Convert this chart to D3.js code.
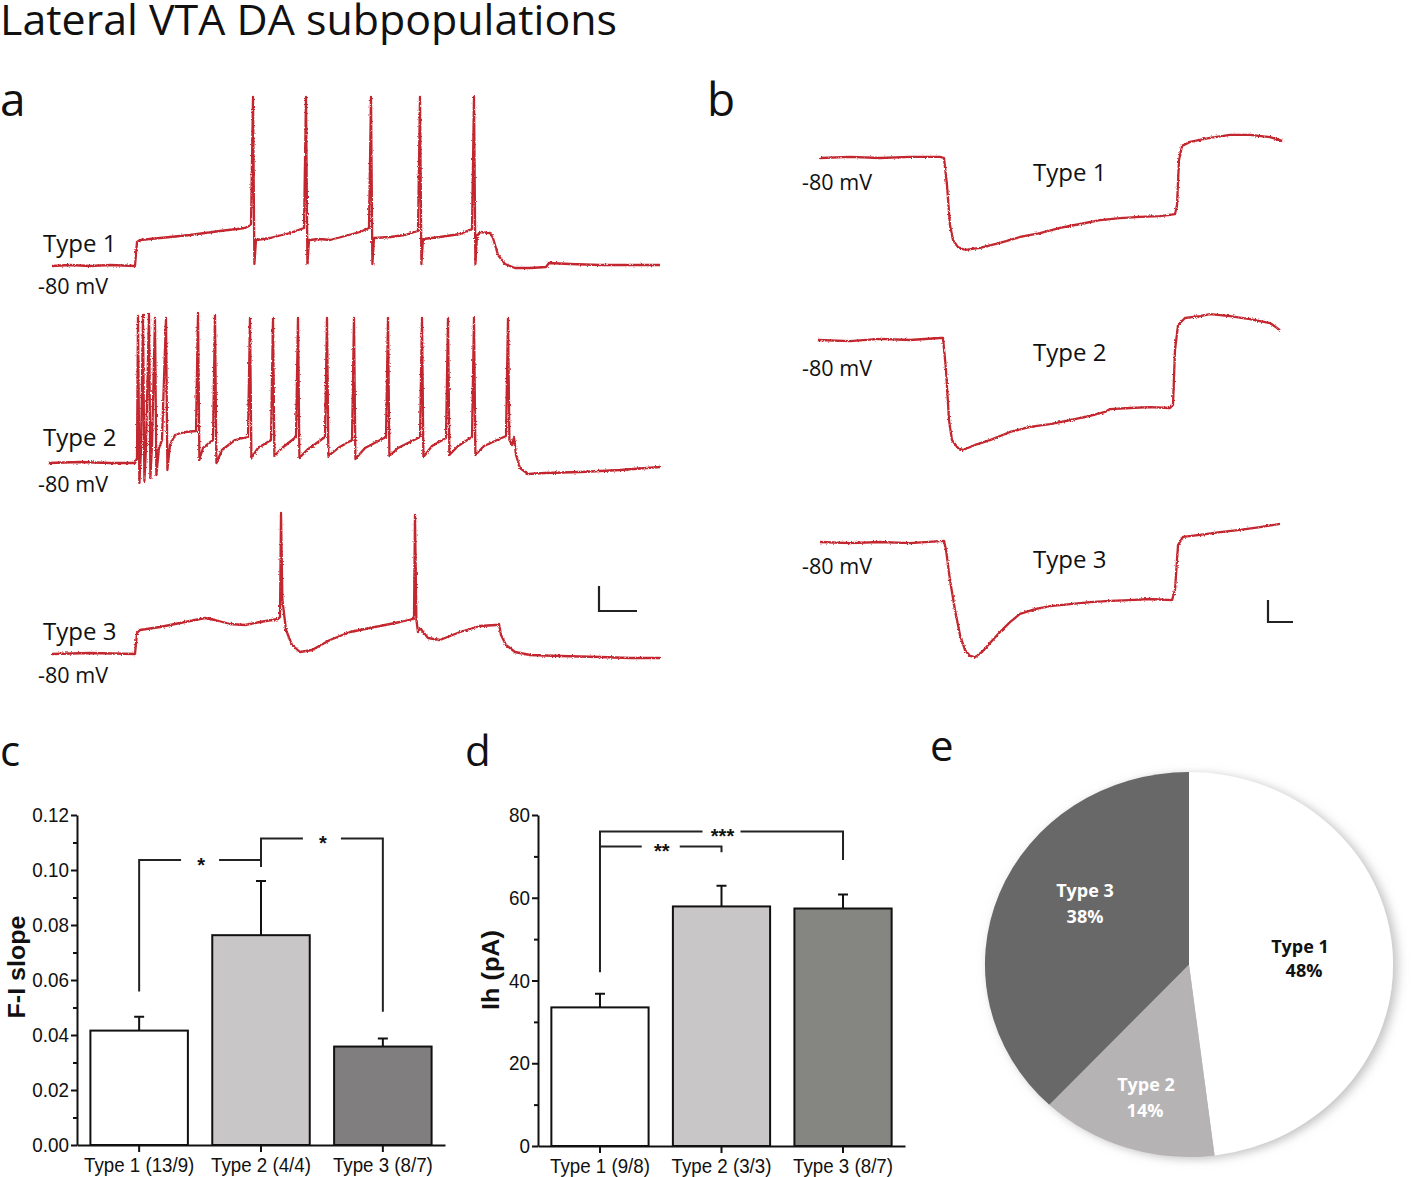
<!DOCTYPE html>
<html><head><meta charset="utf-8">
<script src="https://cdn.jsdelivr.net/npm/d3@7"></script>
<style>
body{margin:0;background:#fff;}
svg{display:block;}
</style></head><body>
<svg id="fig" width="1418" height="1177"></svg>
<script>
// ---------------- DATA ----------------
// Panel a: current-clamp traces, [time (ms), membrane potential (mV)]
const traceA1 = [[60,-80],[150,-79.2],[250,-80],[350,-79.2],[475,-80],[485,-60.8],[500,-59.2],[600,-57.6],[750,-55.2],[900,-52],[1025,-49.6],[1055,-47.2],
 [1065,55.2],[1072,-78.4],[1080,-59.2],[1150,-57.6],[1250,-53.6],[1320,-49.6],
 [1330,55.2],[1337,-78.4],[1345,-59.2],[1400,-58.4],[1450,-59.2],[1525,-56],[1600,-52.8],[1645,-49.6],
 [1655,55.2],[1662,-78.4],[1670,-57.6],[1750,-56.8],[1825,-55.2],[1890,-52],
 [1900,55.2],[1907,-78.4],[1915,-58.4],[2000,-56.8],[2100,-54.4],[2160,-50.4],
 [2170,55.2],[2177,-78.4],[2185,-56],[2200,-52.8],[2250,-53.6],[2265,-57.6],[2290,-71.2],[2325,-78.4],[2375,-81.6],[2450,-81.6],[2530,-80.8],[2545,-77.6],[2650,-78.4],[2800,-79.2],[2950,-79.2],[3100,-79.2]];
const traceA2 = [[40,-80],[200,-79.2],[350,-80],[475,-80],[485,-76],
 [490,37.6],[497,-96],[505,-69.6],[515,38.4],[522,-94.4],[530,-68],[545,39.2],[552,-92],[560,-65.6],[575,36],[582,-89.6],[595,-68],[610,-61.6],
 [630,36],[637,-85.6],[650,-65.6],[675,-57.6],[725,-55.2],[780,-54.4],
 [790,40],[797,-77.6],[815,-68],[865,-61.6],
 [875,38.4],[882,-80],[910,-69.6],[975,-61.6],[1040,-59.2],
 [1050,36],[1057,-76],[1090,-68],[1155,-61.6],
 [1165,36],[1172,-74.4],[1210,-68],[1280,-59.2],
 [1290,36],[1297,-76],[1335,-69.6],[1425,-59.2],
 [1435,36],[1442,-74.4],[1490,-68],[1560,-61.6],
 [1570,36],[1577,-76.8],[1625,-68],[1730,-59.2],
 [1740,36],[1747,-74.4],[1790,-68],[1900,-59.2],
 [1910,36],[1917,-75.2],[1960,-66.4],[2030,-60],
 [2040,36],[2047,-73.6],[2090,-66.4],[2160,-59.2],
 [2170,36],[2177,-73.6],[2220,-66.4],[2330,-58.4],
 [2340,36],[2347,-61.6],[2360,-65.6],[2370,-59.2],[2380,-73.6],[2400,-84],[2440,-88.8],[2525,-88],[2700,-87.2],[2900,-85.6],[3100,-83.2]];
const traceA3 = [[60,-80],[250,-79.2],[475,-80],[485,-63.2],[500,-60.8],[600,-58.4],[725,-54.4],[825,-51.2],[875,-52.8],[950,-56],[1025,-56.8],[1100,-54.4],[1190,-52],[1200,-50.4],
 [1205,32.8],[1212,-36.8],[1230,-60.8],[1260,-72.8],[1300,-78.4],[1360,-76.8],[1450,-68.8],[1550,-62.4],[1675,-58.4],[1800,-54.4],[1865,-52],[1870,-49.6],
 [1875,31.2],[1882,-52.8],[1890,-62.4],[1900,-59.2],[1940,-67.2],[2000,-68.8],[2100,-62.4],[2200,-57.6],[2280,-56.8],[2295,-56],[2305,-64.8],[2330,-72.8],[2375,-78.4],[2450,-80.8],[2600,-81.6],[2800,-82.4],[2950,-83.2],[3100,-83.2]];
// Panel b: hyperpolarising steps, [time (ms), mV]
const traceB1 = [[8,-80],[128,-79.5],[248,-80],[368,-79.5],[488,-79.5],[504,-80],[516,-92.3],[528,-110.5],[540,-117.3],[560,-120.5],[588,-121.8],[648,-120.9],[728,-118.6],[808,-115.9],[888,-114.1],[968,-111.8],[1048,-110],[1128,-108.2],[1208,-107.3],[1288,-106.8],[1368,-106.4],[1428,-105.5],[1436,-101.4],[1444,-80.9],[1456,-74.5],[1488,-72.7],[1568,-70.9],[1648,-69.5],[1728,-69.5],[1808,-70.5],[1860,-72.3]];
const traceB2 = [[0,-80],[128,-80.5],[248,-79.5],[368,-80],[488,-79.1],[500,-79.1],[512,-93.6],[524,-116.4],[536,-125.5],[560,-129.1],[580,-130],[628,-127.7],[688,-125.5],[768,-121.8],[848,-119.5],[928,-118.2],[1008,-116.4],[1088,-114.5],[1148,-112.7],[1168,-111.4],[1248,-110.9],[1328,-110.5],[1408,-110.9],[1420,-109.5],[1428,-84.5],[1440,-73.2],[1468,-70],[1528,-69.1],[1568,-68.2],[1648,-69.1],[1728,-70.5],[1808,-72.3],[1848,-75.5]];
const traceB3 = [[8,-80],[128,-80.5],[248,-80],[368,-80.5],[504,-79.5],[512,-83.6],[528,-97.3],[548,-110.9],[568,-122.3],[588,-129.1],[608,-131.8],[628,-132.3],[656,-130],[688,-125.9],[728,-120.9],[768,-116.4],[808,-112.7],[868,-110.5],[928,-109.1],[1008,-108.2],[1088,-107.3],[1168,-106.8],[1248,-106.4],[1328,-105.9],[1416,-106.4],[1428,-101.8],[1440,-81.4],[1460,-77.7],[1528,-76.8],[1608,-75.5],[1688,-74.5],[1768,-73.2],[1848,-71.8]];
const traceNames = ["Type 1", "Type 2", "Type 3"];
const restLabel = "-80 mV";

// Panel c: F-I slope
const fiCategories = ["Type 1 (13/9)", "Type 2 (4/4)", "Type 3 (8/7)"];
const fiMeans = [0.0416, 0.0763, 0.0358];
const fiSEM = [0.0050, 0.0197, 0.0029];
const fiTicks = [0, 0.02, 0.04, 0.06, 0.08, 0.10, 0.12];
const fiMinorTicks = [0.01, 0.03, 0.05, 0.07, 0.09, 0.11];
const fiSig = [ {a:0, b:1, top:0.1036, dropA:0.0558, dropB:0.1011, label:"*"},
                {a:1, b:2, top:0.1115, dropA:0.1011, dropB:0.0485, label:"*"} ];
const fiColors = ["#ffffff", "#c9c6c7", "#817e7f"];

// Panel d: Ih
const ihCategories = ["Type 1 (9/8)", "Type 2 (3/3)", "Type 3 (8/7)"];
const ihMeans = [33.5, 57.9, 57.4];
const ihSEM = [3.3, 5.0, 3.4];
const ihTicks = [0, 20, 40, 60, 80];
const ihMinorTicks = [10, 30, 50, 70];
const ihSig = [ {a:0, b:2, top:76, dropA:42, dropB:69.1, label:"***"},
                {a:0, b:1, top:72.4, dropA:72.4, dropB:71, label:"**"} ];
const ihColors = ["#ffffff", "#c9c6c7", "#858581"];

// Panel e: proportions
const pieLabels = ["Type 1", "Type 2", "Type 3"];
const piePercent = [48, 14, 38];
const pieColors = ["#ffffff", "#b5b3b3", "#686868"];
const pieTextColors = ["#111", "#fff", "#fff"];

// ---------------- DRAWING ----------------
const svg = d3.select("#fig");
const RED = "#c3262d";
const SANS = "'Open Sans', 'Noto Sans', sans-serif";
const ARIAL = "'Liberation Sans', Arial, sans-serif";
const defs = svg.append("defs");
const nf = defs.append("filter").attr("id","noisy").attr("filterUnits","userSpaceOnUse")
  .attr("x",0).attr("y",0).attr("width",1418).attr("height",1177);
nf.append("feTurbulence").attr("type","fractalNoise").attr("baseFrequency","0.7").attr("numOctaves",1).attr("seed",4).attr("result","n");
nf.append("feDisplacementMap").attr("in","SourceGraphic").attr("in2","n").attr("scale",3).attr("xChannelSelector","R").attr("yChannelSelector","G");
const sh = defs.append("filter").attr("id","pieShadow").attr("x","-20%").attr("y","-20%").attr("width","140%").attr("height","140%");
sh.append("feDropShadow").attr("dx",4).attr("dy",2).attr("stdDeviation",5).attr("flood-color","#8a8a8a").attr("flood-opacity",0.55);

function fitText(sel, w){ sel.attr("textLength", w).attr("lengthAdjust","spacingAndGlyphs"); return sel; }

// Title
fitText(svg.append("text").attr("x",0).attr("y",35).attr("font-family",SANS).attr("font-size",42).attr("fill","#111")
  .text("Lateral VTA DA subpopulations"), 617);

// Panel letters
const panelLetters = [["a",0,116,46],["b",707,116,46],["c",0,766,42],["d",465,766,42],["e",930,761,42]];
panelLetters.forEach(p => svg.append("text").attr("x",p[1]).attr("y",p[2]).attr("font-family",SANS)
  .attr("font-size",p[3]).attr("fill","#111").text(p[0]));

// Panel a
const xA = d3.scaleLinear().domain([0, 3100]).range([40, 660]);
const aLayout = [{base:266, lab:252, mv:294}, {base:463, lab:446, mv:492}, {base:654, lab:640, mv:683}];
[traceA1, traceA2, traceA3].forEach((tr, i) => {
  const L = aLayout[i];
  const y = d3.scaleLinear().domain([-80, 20]).range([L.base, L.base - 125]);
  svg.append("path").datum(tr).attr("d", d3.line().x(d=>xA(d[0])).y(d=>y(d[1])))
    .attr("fill","none").attr("stroke",RED).attr("stroke-width",2.3).attr("stroke-linejoin","round").attr("filter","url(#noisy)");
  svg.append("text").attr("x",43).attr("y",L.lab).attr("font-family",SANS).attr("font-size",24).attr("fill","#111").text(traceNames[i]);
  fitText(svg.append("text").attr("x",38).attr("y",L.mv).attr("font-family",SANS).attr("font-size",22).attr("fill","#111").text(restLabel), 70);
});
// scale bar a: 20 mV / 200 ms
{
  const y = d3.scaleLinear().domain([-80, 20]).range([611, 486]);
  const cx = 599, cy = 611;
  const w = xA(200) - xA(0), h = y(-80) - y(-60);
  svg.append("path").attr("d",`M${cx},${cy-h}V${cy}H${cx+w-2}`).attr("fill","none").attr("stroke","#222").attr("stroke-width",2.2);
}

// Panel b
const xB = d3.scaleLinear().domain([0, 1860]).range([818, 1283]);
const bLayout = [{base:158, mvY:190, labY:181}, {base:340, mvY:376, labY:361}, {base:542, mvY:574, labY:568}];
[traceB1, traceB2, traceB3].forEach((tr, i) => {
  const L = bLayout[i];
  const y = d3.scaleLinear().domain([-80, -70]).range([L.base, L.base - 22]);
  svg.append("path").datum(tr).attr("d", d3.line().x(d=>xB(d[0])).y(d=>y(d[1])))
    .attr("fill","none").attr("stroke",RED).attr("stroke-width",2.3).attr("stroke-linejoin","round").attr("filter","url(#noisy)");
  fitText(svg.append("text").attr("x",802).attr("y",L.mvY).attr("font-family",SANS).attr("font-size",22).attr("fill","#111").text(restLabel), 70);
  svg.append("text").attr("x",1033).attr("y",L.labY).attr("font-family",SANS).attr("font-size",24).attr("fill","#111").text(traceNames[i]);
});
// scale bar b: 10 mV / 100 ms
{
  const y = d3.scaleLinear().domain([-80, -70]).range([622, 600]);
  const cx = 1268, cy = 622;
  const w = xB(100) - xB(0), h = y(-80) - y(-70);
  svg.append("path").attr("d",`M${cx},${cy-h}V${cy}H${cx+w}`).attr("fill","none").attr("stroke","#222").attr("stroke-width",2.2);
}

// Bar panels
function barPanel(o){
  const g = svg.append("g");
  const x = d3.scaleBand().domain(o.cats).range([o.x0, o.x1]).paddingInner(0.2).paddingOuter(0.11);
  const y = d3.scaleLinear().domain(o.domain).range([o.yb, o.yt]);
  const cx = i => x(o.cats[i]) + x.bandwidth()/2;
  o.means.forEach((m, i) => {
    g.append("path").attr("d",`M${cx(i)},${y(m)}V${y(m+o.sem[i])}M${cx(i)-5},${y(m+o.sem[i])}H${cx(i)+5}`)
      .attr("stroke","#111").attr("stroke-width",2).attr("fill","none");
  });
  g.selectAll("rect.bar").data(o.means).join("rect").attr("class","bar")
    .attr("x",(d,i)=>x(o.cats[i])).attr("width",x.bandwidth())
    .attr("y",d=>y(d)).attr("height",d=>y(o.domain[0])-y(d))
    .attr("fill",(d,i)=>o.colors[i]).attr("stroke","#111").attr("stroke-width",2);
  const ya = g.append("g").attr("transform",`translate(${o.x0},0)`)
    .call(d3.axisLeft(y).tickValues(o.major).tickFormat(o.fmt).tickSize(6).tickSizeOuter(0).tickPadding(2));
  const ym = g.append("g").attr("transform",`translate(${o.x0},0)`)
    .call(d3.axisLeft(y).tickValues(o.minor).tickFormat("").tickSize(4).tickSizeOuter(0));
  ym.select(".domain").remove();
  const xa = g.append("g").attr("transform",`translate(0,${o.yb})`)
    .call(d3.axisBottom(x).tickSize(7).tickSizeOuter(0).tickPadding(6));
  [ya, ym, xa].forEach(a => {
    a.selectAll("path.domain").attr("stroke","#111").attr("stroke-width",2);
    a.selectAll(".tick line").attr("stroke","#111").attr("stroke-width",2);
  });
  ya.selectAll("text").attr("font-family",ARIAL).attr("font-size",20.5).attr("fill","#111")
    .each(function(){ const w = this.getComputedTextLength(); this.setAttribute("textLength", w*0.92); this.setAttribute("lengthAdjust","spacingAndGlyphs"); });
  xa.selectAll("text").attr("font-family",ARIAL).attr("font-size",19.5).attr("fill","#111")
    .each(function(){ const w = this.getComputedTextLength(); this.setAttribute("textLength", w*0.96); this.setAttribute("lengthAdjust","spacingAndGlyphs"); });
  o.sig.forEach(s => {
    const xa_ = cx(s.a), xb_ = cx(s.b), yt = y(s.top), mid = (xa_ + xb_)/2, gap = 19;
    g.append("path").attr("d",`M${xa_},${y(s.dropA)}V${yt}H${mid-gap}M${mid+gap},${yt}H${xb_}V${y(s.dropB)}`)
      .attr("fill","none").attr("stroke","#222").attr("stroke-width",2);
    g.append("text").attr("x",mid+1).attr("y",yt+11.5).attr("text-anchor","middle").attr("font-family",ARIAL)
      .attr("font-weight","bold").attr("font-size",20).attr("fill","#111").text(s.label);
  });
  fitText(g.append("text").attr("transform",`translate(${o.labX},${o.labY}) rotate(-90)`).attr("text-anchor","middle")
    .attr("font-family",ARIAL).attr("font-weight","bold").attr("font-size",23).attr("fill","#111").text(o.ylabel), o.labLen);
}
barPanel({cats:fiCategories, means:fiMeans, sem:fiSEM, colors:fiColors, domain:[0,0.12], major:fiTicks, minor:fiMinorTicks,
  fmt:d3.format(".2f"), x0:77, x1:445, yb:1145, yt:815, sig:fiSig, ylabel:"F-I slope", labX:25, labY:967, labLen:103});
barPanel({cats:ihCategories, means:ihMeans, sem:ihSEM, colors:ihColors, domain:[0,80], major:ihTicks, minor:ihMinorTicks,
  fmt:d3.format("d"), x0:538, x1:905, yb:1146, yt:815, sig:ihSig, ylabel:"Ih (pA)", labX:499, labY:970, labLen:80});

// Panel e: pie
{
  const pg = svg.append("g").attr("transform","translate(1189,964.5) scale(1.06,1)").attr("filter","url(#pieShadow)");
  const arcs = d3.pie().sort(null).value(d=>d)(piePercent);
  const arc = d3.arc().innerRadius(0).outerRadius(192.5);
  pg.selectAll("path").data(arcs).join("path").attr("d",arc).attr("fill",(d,i)=>pieColors[i]);
  const labelPos = [[1300,953,1304,977],[1146,1091,1145,1117],[1085,897,1085,923]];
  pieLabels.forEach((lab, i) => {
    const p = labelPos[i];
    svg.append("text").attr("x",p[0]).attr("y",p[1]).attr("text-anchor","middle").attr("font-family",SANS)
      .attr("font-weight","bold").attr("font-size",18).attr("fill",pieTextColors[i]).text(lab);
    svg.append("text").attr("x",p[2]).attr("y",p[3]).attr("text-anchor","middle").attr("font-family",SANS)
      .attr("font-weight","bold").attr("font-size",18).attr("fill",pieTextColors[i]).text(piePercent[i] + "%");
  });
}
</script></body></html>
